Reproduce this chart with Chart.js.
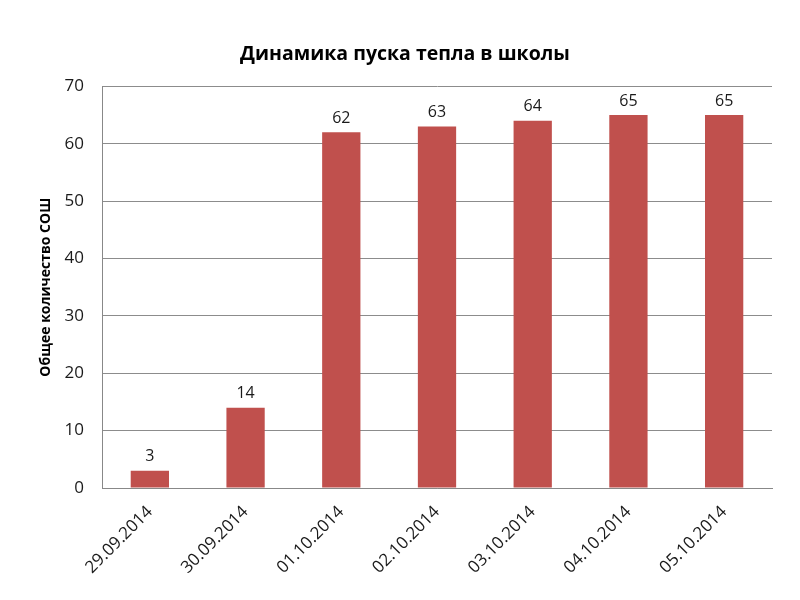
<!DOCTYPE html>
<html>
<head>
<meta charset="utf-8">
<script src="https://cdn.jsdelivr.net/npm/chart.js@4"></script>
<style>
  html, body { margin: 0; padding: 0; background: #fff; }
  #wrap { width: 800px; height: 600px; }
</style>
</head>
<body>
<div id="wrap"><canvas id="bar-chart"></canvas></div>
<script>
var dates = ['29.09.2014', '30.09.2014', '01.10.2014', '02.10.2014', '03.10.2014', '04.10.2014', '05.10.2014'];
var schools = [3, 14, 62, 63, 64, 65, 65];
var yTicks = [0, 10, 20, 30, 40, 50, 60, 70];

// values above bars
var barLabels = {
  id: 'barLabels',
  afterDatasetsDraw: function(chart) {
    var ctx = chart.ctx;
    var meta = chart.getDatasetMeta(0);
    ctx.save();
    ctx.font = '16px "Open Sans"';
    ctx.fillStyle = '#1a1a1a';
    ctx.textAlign = 'center';
    ctx.textBaseline = 'bottom';
    meta.data.forEach(function(bar, i) {
      ctx.fillText(schools[i], bar.x, bar.y - 6);
    });
    ctx.restore();
  }
};

Chart.defaults.font.family = '"Open Sans", sans-serif';
Chart.defaults.color = '#1a1a1a';

new Chart(document.getElementById('bar-chart').getContext('2d'), {
  type: 'bar',
  data: {
    labels: dates,
    datasets: [{
      data: schools,
      backgroundColor: '#c0504d',
      categoryPercentage: 1,
      barPercentage: 0.4
    }]
  },
  options: {
    responsive: true,
    maintainAspectRatio: false,
    animation: false,
    layout: { padding: { left: 38, right: 28, top: 0, bottom: 0 } },
    plugins: {
      legend: { display: false },
      tooltip: { enabled: false },
      title: {
        display: true,
        text: 'Динамика пуска тепла в школы',
        font: { size: 19.5, weight: 'bold' },
        color: '#000',
        padding: { top: 43, bottom: 20 }
      }
    },
    scales: {
      x: {
        grid: { display: false, drawTicks: false },
        border: { color: '#888' },
        ticks: {
          maxRotation: 45, minRotation: 45,
          font: { size: 17 }, padding: 14
        },
        afterFit: function(s) { s.height = 112; }
      },
      y: {
        min: 0, max: 70,
        afterBuildTicks: function(s) { s.ticks = yTicks.map(function(v) { return { value: v }; }); },
        grid: { color: '#8c8c8c', drawTicks: false },
        border: { color: '#888' },
        ticks: { font: { size: 17 }, padding: 18 },
        title: {
          display: true,
          text: 'Общее количество СОШ',
          font: { size: 14, weight: 'bold' },
          color: '#000',
          padding: { top: 0, bottom: 4 }
        },
        afterFit: function(s) { s.width = 64; }
      }
    }
  },
  plugins: [barLabels]
});
</script>
</body>
</html>
